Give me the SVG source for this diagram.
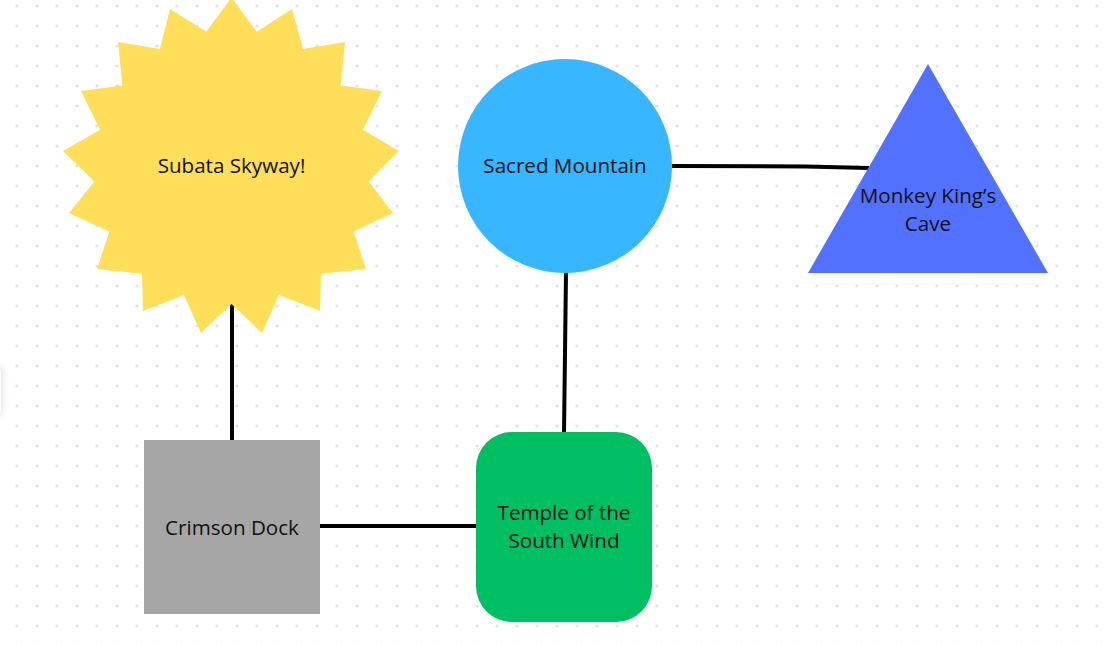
<svg xmlns="http://www.w3.org/2000/svg" width="1109" height="645" viewBox="0 0 1109 645">
<defs>
<pattern id="dots" x="7" y="-4" width="20" height="20" patternUnits="userSpaceOnUse">
<circle cx="10" cy="10" r="1.6" fill="#dfe2e9"/>
</pattern>
<filter id="sh" x="-100%" y="-50%" width="300%" height="200%">
<feGaussianBlur stdDeviation="4"/>
</filter>
<style>
.lbl{font-family:"Open Sans","Noto Sans","Liberation Sans",sans-serif;font-size:20.6px;fill:#111;text-anchor:middle}
.conn{stroke:#000;stroke-width:4;fill:none}
</style>
</defs>
<rect width="1109" height="645" fill="#ffffff"/>
<rect width="1109" height="645" fill="url(#dots)"/>
<g id="edge-panel">
<rect x="-20" y="366" width="22" height="50" rx="6" fill="#000" opacity="0.12" filter="url(#sh)"/>
<rect x="-20" y="366" width="21" height="50" rx="6" fill="#fff"/>
</g>
<g id="connectors">
<line class="conn" x1="232" y1="300" x2="232" y2="441"/>
<line class="conn" x1="566" y1="272" x2="564" y2="433"/>
<line class="conn" x1="319" y1="526" x2="477" y2="526"/>
<polyline class="conn" points="672,166 806,166.5 869,168"/>
</g>
<g id="subata-skyway">
<polygon fill="#ffde59" points="231.5,-2.5 256.7,31.8 292.0,9.0 303.1,49.1 345.0,42.0 340.6,85.6 382.0,91.0 363.0,129.8 399.0,151.0 368.6,181.5 393.0,213.0 353.7,231.5 366.0,269.0 321.0,273.7 320.0,311.0 279.0,295.0 262.0,333.0 231.5,304.0 201.0,333.0 184.0,295.0 143.0,311.0 142.0,273.7 97.0,269.0 109.3,231.5 69.0,213.0 94.4,181.5 63.0,151.0 100.0,129.8 81.0,91.0 122.4,85.6 118.0,42.0 159.9,49.1 170.0,9.0 206.3,31.8"/>
<text class="lbl" x="231.5" y="173">Subata Skyway!</text>
</g>
<g id="sacred-mountain">
<circle cx="565" cy="166" r="107" fill="#38b6ff"/>
<text class="lbl" x="565" y="173">Sacred Mountain</text>
</g>
<g id="monkey-kings-cave">
<polygon fill="#5271ff" points="928,64 1048,273 808,273"/>
<text class="lbl" x="928" y="203">Monkey King’s</text>
<text class="lbl" x="928" y="231">Cave</text>
</g>
<g id="crimson-dock">
<rect x="144" y="440" width="176" height="174" fill="#a6a6a6"/>
<text class="lbl" x="232" y="535">Crimson Dock</text>
</g>
<g id="temple-south-wind">
<rect x="476" y="432" width="176" height="190" rx="36" fill="#00bf63"/>
<text class="lbl" x="564" y="520">Temple of the</text>
<text class="lbl" x="564" y="548">South Wind</text>
</g>
</svg>
